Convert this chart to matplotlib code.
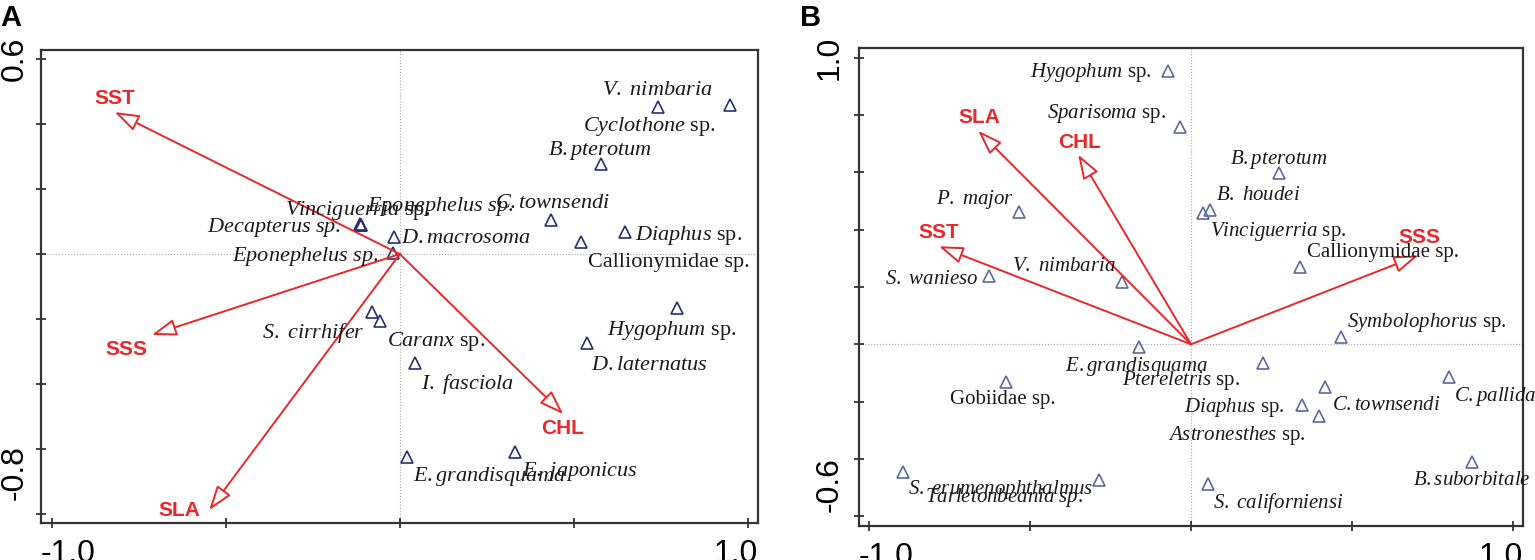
import matplotlib
matplotlib.use("Agg")
from matplotlib import pyplot as plt
from matplotlib.transforms import blended_transform_factory

plt.rcParams["mathtext.fontset"] = "custom"
plt.rcParams["mathtext.rm"] = "Liberation Serif"
plt.rcParams["mathtext.it"] = "Liberation Serif:italic"

# ---- panel A data ----
a_env = ["SST", "SSS", "SLA", "CHL"]
a_env_x = [-0.820, -0.713, -0.548, 0.470]
a_env_y = [0.437, -0.249, -0.788, -0.493]

a_species = [r"$\mathit{Vinciguerria}$ sp.", r"$\mathit{Eponephelus\ sp.}$",
             r"$\mathit{Decapterus\ sp.}$", r"$\mathit{Eponephelus\ sp.}$",
             r"$\mathit{D.macrosoma}$", r"$\mathit{C.townsendi}$",
             r"$\mathit{Diaphus}$ sp.", "Callionymidae sp.",
             r"$\mathit{V.\ nimbaria}$", r"$\mathit{Cyclothone}$ sp.",
             r"$\mathit{B.pterotum}$", r"$\mathit{S.\ cirrhifer}$",
             r"$\mathit{Caranx}$ sp.", r"$\mathit{I.\ fasciola}$",
             r"$\mathit{Hygophum}$ sp.", r"$\mathit{D.laternatus}$",
             r"$\mathit{E.grandisquama}$", r"$\mathit{E.\ japonicus}$"]
a_x = [-0.115, -0.112, -0.112, -0.019, -0.016, 0.436, 0.647, 0.522, 0.743,
       0.949, 0.578, -0.081, -0.058, 0.043, 0.796, 0.537, 0.022, 0.331]
a_y = [0.092, 0.090, 0.090, 0.002, 0.051, 0.105, 0.067, 0.036, 0.453,
       0.458, 0.276, -0.178, -0.205, -0.334, -0.167, -0.275, -0.624, -0.608]

# ---- panel B data ----
b_env = ["SLA", "CHL", "SST", "SSS"]
b_env_x = [-0.660, -0.350, -0.782, 0.705]
b_env_y = [0.745, 0.662, 0.342, 0.310]

b_species = [r"$\mathit{Hygophum}$ sp.", r"$\mathit{Sparisoma}$ sp.",
             r"$\mathit{B.pterotum}$", r"$\mathit{B.\ houdei}$",
             r"$\mathit{Vinciguerria}$ sp.", "Callionymidae sp.",
             r"$\mathit{P.\ major}$", r"$\mathit{S.\ wanieso}$",
             r"$\mathit{V.\ nimbaria}$", r"$\mathit{E.grandisquama}$",
             r"$\mathit{Ptereletris}$ sp.", "Gobiidae sp.",
             r"$\mathit{Symbolophorus}$ sp.", r"$\mathit{C.pallida}$",
             r"$\mathit{C.townsendi}$", r"$\mathit{Astronesthes}$ sp.",
             r"$\mathit{Diaphus}$ sp.", r"$\mathit{B.suborbitale}$",
             r"$\mathit{S.\ californiensi}$", r"$\mathit{S.\ erumenophthalmus}$",
             r"$\mathit{Tarletonbeania\ sp.}$"]
b_x = [-0.070, -0.034, 0.274, 0.059, 0.038, 0.338, -0.533, -0.626, -0.215,
       -0.161, 0.222, -0.574, 0.465, 0.801, 0.416, 0.398, 0.344, 0.873,
       0.052, -0.895, -0.285]
b_y = [0.954, 0.760, 0.597, 0.470, 0.459, 0.270, 0.461, 0.237, 0.218,
       -0.008, -0.066, -0.130, 0.026, -0.115, -0.150, -0.252, -0.213, -0.412,
       -0.489, -0.446, -0.472]

# label placement (left edge, vertical centre), data units
a_lab_x = [-0.331, -0.095, -0.555, -0.483, 0.003, 0.273, 0.676, 0.541, 0.581,
           0.526, 0.426, -0.397, -0.037, 0.062, 0.597, 0.549, 0.037, 0.350]
a_lab_y = [0.135, 0.145, 0.083, -0.009, 0.049, 0.154, 0.058, -0.025, 0.502,
           0.394, 0.320, -0.242, -0.268, -0.400, -0.234, -0.342, -0.685, -0.670]
a_env_lab = [(-0.820, 0.480), (-0.785, -0.295), (-0.633, -0.788), (0.468, -0.538)]

b_lab_x = [-0.500, -0.447, 0.121, 0.078, 0.059, 0.359, -0.792, -0.950, -0.556,
           -0.391, -0.215, -0.748, 0.483, 0.817, 0.437, -0.070, -0.021, 0.688,
           0.069, -0.877, -0.826]
b_lab_y = [0.948, 0.807, 0.644, 0.519, 0.394, 0.320, 0.505, 0.227, 0.270,
           -0.078, -0.128, -0.194, 0.076, -0.182, -0.215, -0.318, -0.220, -0.475,
           -0.555, -0.507, -0.535]
b_env_lab = [(-0.657, 0.791), (-0.347, 0.704), (-0.781, 0.389), (0.709, 0.372)]

RED = "#e8282b"
SANS = "Liberation Sans"
SERIF = "Liberation Serif"


def draw_panel(ax, env, ex, ey, env_lab, names, xs, ys, lab_x, lab_y,
               xlim, ylim, yticks, ylabels, ylab_x, mcolor, fsize):
    ax.set_xlim(*xlim)
    ax.set_ylim(*ylim)
    ax.axhline(0, color="#aaaaaa", ls=":", lw=0.8, zorder=0)
    ax.axvline(0, color="#aaaaaa", ls=":", lw=0.8, zorder=0)

    for i in range(len(env)):
        ax.annotate("", xy=(ex[i], ey[i]), xytext=(0, 0),
                    arrowprops=dict(arrowstyle="-|>,head_length=0.75,head_width=0.26",
                                    ec=RED, fc="white", lw=1.4,
                                    shrinkA=0, shrinkB=0, mutation_scale=20))
        ax.text(env_lab[i][0], env_lab[i][1], env[i], color=RED, fontsize=15,
                fontweight="bold", family=SANS, ha="center", va="center")

    ax.plot(xs, ys, ls="none", marker="^", ms=8, mfc="none", mec=mcolor, mew=1.2)
    for i in range(len(names)):
        ax.text(lab_x[i], lab_y[i], names[i], fontsize=fsize, family=SERIF,
                ha="left", va="center", color="#1a1a1a", clip_on=False)

    ax.set_xticks([-1.0, -0.5, 0.0, 0.5, 1.0])
    ax.set_yticks(yticks)
    ax.set_xticklabels([])
    ax.set_yticklabels([])
    ax.tick_params(direction="inout", length=7, width=1.2, color="#222222")
    for s in ax.spines.values():
        s.set_linewidth(1.6)
        s.set_color("#333333")

    # axis end labels
    ax.text(0, -0.035, "-1.0", transform=ax.transAxes, ha="left", va="top",
            fontsize=23, family=SANS)
    ax.text(1, -0.035, "1.0", transform=ax.transAxes, ha="right", va="top",
            fontsize=23, family=SANS)
    tr = blended_transform_factory(ax.transAxes, ax.transData)
    for yv, txt in zip(ylabels[0], ylabels[1]):
        ax.text(ylab_x, yv, txt, transform=tr, rotation=90, ha="right",
                va="center", fontsize=23, family=SANS)


fig = plt.figure(figsize=(15.35, 5.6), dpi=100)
ax_a = fig.add_axes([0.0267, 0.0666, 0.4671, 0.8441])
ax_b = fig.add_axes([0.5596, 0.0613, 0.4328, 0.8535])

draw_panel(ax_a, a_env, a_env_x, a_env_y, a_env_lab, a_species, a_x, a_y,
           a_lab_x, a_lab_y, (-1.032, 1.030), (-0.827, 0.628),
           [-0.8, -0.6, -0.4, -0.2, 0.0, 0.2, 0.4, 0.6],
           ([0.6, -0.674], ["0.6", "-0.8"]), -0.016, "#26306e", 16)
draw_panel(ax_b, b_env, b_env_x, b_env_y, b_env_lab, b_species, b_x, b_y,
           b_lab_x, b_lab_y, (-1.030, 1.031), (-0.633, 1.035),
           [-0.6, -0.4, -0.2, 0.0, 0.2, 0.4, 0.6, 0.8, 1.0],
           ([1.0, -0.489], ["1.0", "-0.6"]), -0.022, "#5b6a9e", 15)

fig.text(0.0, 0.992, "A", fontsize=21, fontweight="bold", family=SANS, va="top")
fig.text(0.521, 0.992, "B", fontsize=21, fontweight="bold", family=SANS, va="top")

fig.savefig("out.png", dpi=100)
